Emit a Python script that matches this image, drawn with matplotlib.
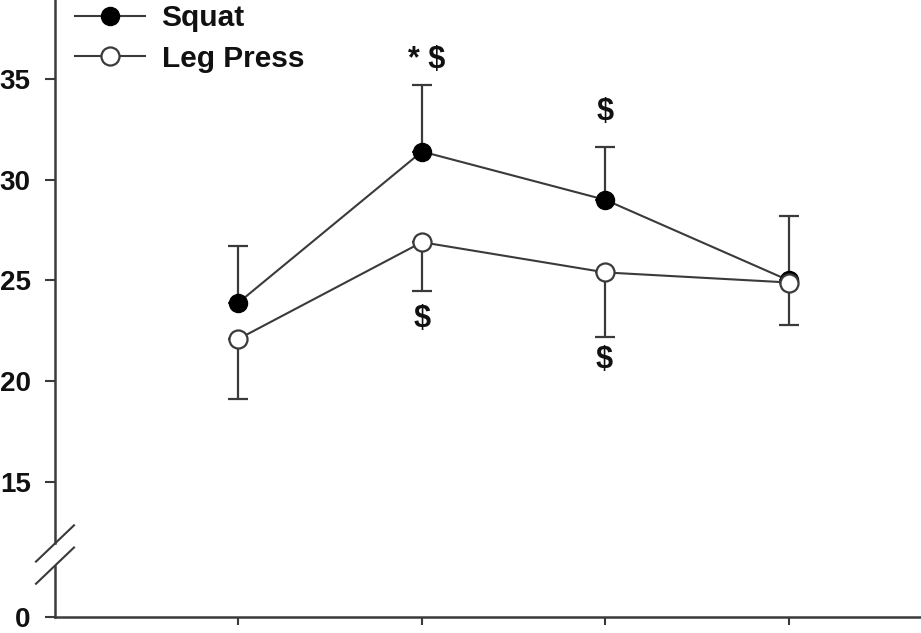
import matplotlib
matplotlib.use("Agg")
import matplotlib.pyplot as plt
from matplotlib.lines import Line2D

plt.rcParams["font.family"] = ["Liberation Sans", "DejaVu Sans"]
plt.rcParams["font.weight"] = "bold"

# data
sessions = [1, 2, 3, 4]
squat_mean = [23.9, 31.4, 29.0, 25.0]
squat_sd = [2.8, 3.3, 2.6, 3.2]
press_mean = [22.1, 26.9, 25.4, 24.9]
press_sd = [3.0, 2.4, 3.2, 2.1]

# significance marks: (x, y, text)
marks = [(2.025, 35.95, r"* \$"), (3.0, 33.35, r"\$"),
         (2.0, 23.1, r"\$"), (2.99, 21.05, r"\$")]

ytick_vals = [15, 20, 25, 30, 35]
y_bottom = 8.3
y_top = 38.92
line_col = "#3a3a3a"

fig = plt.figure(figsize=(9.21, 6.33), dpi=100)
ax = fig.add_axes([55 / 921, 16 / 633, 866 / 921, 617 / 633])

ax.errorbar(sessions, squat_mean, yerr=[[0] * 4, squat_sd], color=line_col,
            lw=1.5, marker="o", ms=13, mfc="black", mec="black",
            ecolor=line_col, elinewidth=1.6, capsize=7, capthick=1.6,
            zorder=3)
ax.errorbar(sessions, press_mean, yerr=[press_sd, [0] * 4], color=line_col,
            lw=1.5, marker="o", ms=13, mfc="white", mec=line_col, mew=1.6,
            ecolor=line_col, elinewidth=1.6, capsize=7, capthick=1.6,
            zorder=4)

for x, y, s in marks:
    ax.text(x, y, s, ha="center", va="center", fontsize=22,
            fontweight="bold", color="#111111")

ax.set_xlim(0, 4.72)
ax.set_ylim(y_bottom, y_top)
ax.set_xticks(sessions)
ax.set_xticklabels([])
ax.set_yticks([y_bottom] + ytick_vals)
ax.set_yticklabels(["0"] + [str(v) for v in ytick_vals])
ax.tick_params(axis="y", direction="out", length=7.5, width=1.5,
               color=line_col, labelsize=20, pad=10, labelcolor="#111111")
ax.tick_params(axis="x", direction="out", length=6, width=1.5,
               color=line_col)

for side in ("top", "right"):
    ax.spines[side].set_visible(False)
for side in ("left", "bottom"):
    ax.spines[side].set_color(line_col)
    ax.spines[side].set_linewidth(1.8)

# broken y axis
brk_lo, brk_hi = 10.85, 11.95
ax.spines["left"].set_bounds(brk_hi, y_top)
ax.plot([0, 0], [y_bottom, brk_lo], color=line_col, lw=1.8,
        clip_on=False, zorder=5)
tr = ax.get_yaxis_transform()
dx = 19 / 866
for yc in (brk_lo, brk_hi):
    ax.plot([-dx, dx], [yc - 0.9, yc + 0.9], transform=tr, color=line_col,
            lw=1.5, clip_on=False)

handles = [
    Line2D([], [], color=line_col, lw=1.5, marker="o", ms=13,
           mfc="black", mec="black"),
    Line2D([], [], color=line_col, lw=1.5, marker="o", ms=13,
           mfc="white", mec=line_col, mew=1.6),
]
leg = ax.legend(handles, ["Squat", "Leg Press"], loc="upper left",
                bbox_to_anchor=(-0.008, 1.037), frameon=False,
                fontsize=21.5, handlelength=2.35, handletextpad=0.55,
                labelspacing=0.43)
for t in leg.get_texts():
    t.set_color("#111111")

fig.savefig("out.png", dpi=100)
